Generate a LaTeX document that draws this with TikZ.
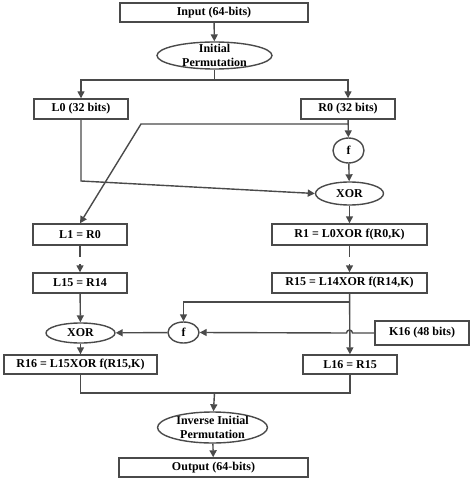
\documentclass[tikz,border=0pt]{standalone}
\usepackage{fontspec}
\setmainfont{Liberation Serif}
\usetikzlibrary{shapes.geometric,arrows.meta}
\definecolor{ln}{HTML}{4A4A4A}
\begin{document}
\begin{tikzpicture}[x=1pt,y=-1pt,
  every node/.style={font=\fontsize{12}{13.5}\selectfont\bfseries, text=black},
  bx/.style={draw=ln, line width=1.4pt, rectangle, inner sep=0pt},
  ell/.style={draw=ln, line width=1.4pt, ellipse, inner sep=-3pt, align=center},
  con/.style={draw=ln, line width=1.4pt},
  arr/.style={con, -{Triangle[length=7pt,width=7pt]}}]
\useasboundingbox (0,0) rectangle (474,481);
\node[bx, minimum width=188pt, minimum height=19pt] (inp) at (214,12.5) {Input (64-bits)};
\node[ell, minimum width=115pt, minimum height=27pt] (ip) at (214.5,55.5) {Initial\\Permutation};
\node[bx, minimum width=94pt, minimum height=20pt] (L0) at (81,109) {L0 (32 bits)};
\node[bx, minimum width=94pt, minimum height=20pt] (R0) at (348,109) {R0 (32 bits)};
\node[ell, minimum width=31pt, minimum height=25pt] (f1) at (348.5,150.5) {f};
\node[ell, minimum width=68pt, minimum height=23pt] (xor1) at (349.5,193.5) {XOR};
\node[bx, minimum width=94pt, minimum height=21pt] (L1) at (80,234.5) {L1 = R0};
\node[bx, minimum width=155pt, minimum height=21pt] (R1) at (349.5,234.5) {R1 = L0XOR f(R0,K)};
\node[bx, minimum width=94pt, minimum height=20pt] (L15) at (80,283) {L15 = R14};
\node[bx, minimum width=155pt, minimum height=20pt] (R15) at (349.5,283) {R15 = L14XOR f(R14,K)};
\node[ell, minimum width=69pt, minimum height=20pt] (xor2) at (80.5,333) {XOR};
\node[ell, minimum width=31pt, minimum height=21pt] (f2) at (183.5,332.5) {f};
\node[bx, minimum width=94pt, minimum height=24pt] (K16) at (422,333) {K16 (48 bits)};
\node[bx, minimum width=153pt, minimum height=19pt] (R16) at (80.5,364.5) {R16 = L15XOR f(R15,K)};
\node[bx, minimum width=94pt, minimum height=19pt] (L16) at (350,364.5) {L16 = R15};
\node[ell, minimum width=110pt, minimum height=31pt] (iip) at (212.5,427.5) {Inverse Initial\\Permutation};
\node[bx, minimum width=189pt, minimum height=19pt] (out) at (213.5,467.5) {Output (64-bits)};
% coordinates
\coordinate (br) at (214.5,80);
\coordinate (c1) at (348.5,124);
\coordinate (c2) at (141,124);
\coordinate (c3) at (81,181);
\coordinate (c4) at (349.5,302);
\coordinate (g1) at (80,264);
\coordinate (g2) at (349.5,264);
\coordinate (m) at (214.5,393);
\coordinate (hp) at (349.5,333);
% connectors
\draw[arr] (inp) -- (ip);
\draw[con] (ip) -- (br);
\draw[arr] (br) -| (L0);
\draw[arr] (br) -| (R0);
\draw[arr] (R0) -- (f1);
\draw[arr] (c1) -- (c2) -- (L1.north);
\draw[arr] (L0) -- (c3) -- (xor1.west);
\draw[arr] (f1) -- (xor1);
\draw[arr] (xor1) -- (R1);
\draw[con] (L1.south) -- ++(0,11);
\draw[arr] (g1) -- (L15.north);
\draw[con] (R1.south) -- ++(0,11);
\draw[arr] (g2) -- (R15.north);
\draw[arr] (L15) -- (xor2);
\draw[arr] (R15) -- (L16);
\draw[arr] (c4) -| (f2.north);
\draw[arr] (K16.west) -- ([xshift=3pt]hp) arc[start angle=0,end angle=180,radius=3pt] -- (f2.east);
\draw[arr] (f2) -- (xor2);
\draw[arr] (xor2) -- (R16);
\draw[con] (R16.south) -- (R16.south |- m) -- (L16.south |- m) -- (L16.south);
\draw[arr] (m) -- (iip);
\draw[arr] (iip) -- (out);
\end{tikzpicture}
\end{document}
